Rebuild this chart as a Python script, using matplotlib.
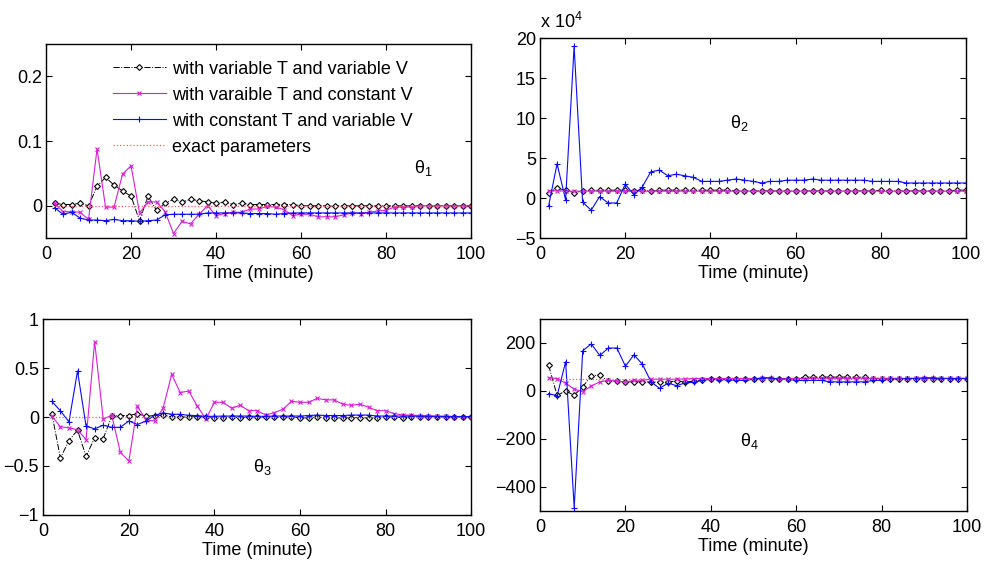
import numpy as np
import matplotlib
matplotlib.use('Agg')
import matplotlib.pyplot as plt

plt.rcParams['font.family'] = ['Liberation Sans', 'DejaVu Sans']
plt.rcParams['mathtext.fontset'] = 'custom'
plt.rcParams['mathtext.rm'] = 'Liberation Sans'
plt.rcParams['mathtext.it'] = 'Liberation Sans'
plt.rcParams['font.size'] = 13

# sampling times (minute)
t = np.arange(2, 101, 2)

# theta_1
th1_varT_varV = [0.004, 0.002, 0.002, 0.004, 0.0, 0.030, 0.044, 0.032, 0.023, 0.015,
                 -0.023, 0.015, -0.007, 0.004, 0.010, 0.006, 0.010, 0.008, 0.006, 0.004,
                 0.006, 0.002, 0.004, 0.002, 0.002, 0.002, 0.002, 0.002, 0.002, 0.0,
                 0.0, 0.0, 0.0, 0.0, 0.0, 0.0, 0.0, 0.0, 0.0, 0.0,
                 0.0, 0.0, 0.0, 0.0, 0.0, 0.0, 0.0, 0.0, 0.0, 0.0]
th1_varT_conV = [0.004, -0.009, -0.009, -0.010, -0.021, 0.088, -0.002, -0.002, 0.049, 0.062,
                 -0.011, 0.006, 0.006, -0.009, -0.043, -0.024, -0.028, -0.013, 0.0, -0.015,
                 -0.012, -0.010, -0.010, -0.005, -0.005, -0.001, -0.002, -0.006, -0.015, -0.013,
                 -0.013, -0.017, -0.017, -0.017, -0.014, -0.011, -0.012, -0.010, -0.008, -0.007,
                 -0.002, -0.002, -0.002, 0.0, 0.0, 0.0, 0.0, 0.0, 0.0, 0.0]
th1_conT_varV = [-0.003, -0.013, -0.010, -0.019, -0.022, -0.022, -0.023, -0.021, -0.023, -0.023,
                 -0.024, -0.023, -0.022, -0.014, -0.013, -0.013, -0.013, -0.013, -0.011, -0.011,
                 -0.011, -0.011, -0.011, -0.012, -0.012, -0.012, -0.013, -0.012, -0.011, -0.011,
                 -0.011, -0.011, -0.011, -0.011, -0.011, -0.011, -0.011, -0.011, -0.011, -0.011,
                 -0.011, -0.011, -0.011, -0.011, -0.011, -0.011, -0.011, -0.011, -0.011, -0.011]

# theta_2 (x 10^4)
th2_varT_varV = [0.7, 1.25, 1.0, 0.7, 0.9, 1.0, 1.0, 1.0, 1.0, 1.0,
                 0.9, 1.0, 0.85, 1.0, 1.0, 1.0, 1.0, 1.0, 1.0, 1.0,
                 1.0, 1.0, 0.9, 0.9, 0.9, 0.9, 0.9, 0.9, 0.9, 0.9,
                 0.9, 0.9, 0.9, 0.9, 0.9, 0.9, 0.9, 0.9, 0.9, 1.0,
                 0.9, 0.9, 0.9, 0.9, 0.9, 0.9, 0.9, 0.9, 1.0, 1.0]
th2_varT_conV = [0.9, 0.92, 0.9, 0.86, 0.88, 0.9, 0.88, 0.88, 0.88, 0.9,
                 0.88, 0.88, 0.88, 0.88, 0.88, 0.88, 0.88, 0.88, 0.88, 0.88,
                 0.88, 0.88, 0.88, 0.88, 0.88, 0.88, 0.88, 0.88, 0.88, 0.88,
                 0.88, 0.88, 0.88, 0.88, 0.88, 0.88, 0.88, 0.88, 0.88, 0.88,
                 0.88, 0.88, 0.88, 0.88, 0.88, 0.88, 0.88, 0.88, 0.88, 0.88]
th2_conT_varV = [-1.0, 4.3, -0.2, 19.0, -0.5, -1.5, 0.2, -0.6, -0.6, 1.75,
                 0.45, 1.4, 3.3, 3.5, 2.8, 3.0, 2.8, 2.6, 2.1, 2.1,
                 2.1, 2.25, 2.4, 2.25, 2.1, 1.9, 2.1, 2.1, 2.25, 2.25,
                 2.25, 2.4, 2.25, 2.25, 2.25, 2.25, 2.25, 2.25, 2.1, 2.1,
                 2.1, 2.1, 1.9, 1.9, 1.9, 1.9, 1.9, 1.9, 1.9, 1.9]

# theta_3
th3_varT_varV = [0.035, -0.42, -0.24, -0.135, -0.40, -0.215, -0.22, 0.007, 0.015, 0.015,
                 0.035, 0.007, 0.015, 0.02, 0.0, 0.0, 0.0, 0.005, 0.0, -0.007,
                 -0.007, 0.0, -0.007, 0.0, 0.0, 0.0, 0.0, 0.0, 0.0, -0.007,
                 -0.01, 0.0, -0.007, -0.007, -0.01, -0.007, -0.007, -0.01, -0.007, 0.0,
                 0.0, -0.007, 0.0, 0.0, 0.0, 0.0, 0.0, 0.0, 0.0, 0.0]
th3_varT_conV = [0.01, -0.10, -0.11, -0.13, -0.23, 0.77, -0.02, 0.017, -0.36, -0.45,
                 0.11, -0.03, -0.04, 0.09, 0.435, 0.25, 0.265, 0.11, -0.02, 0.15,
                 0.15, 0.09, 0.12, 0.065, 0.065, 0.02, 0.045, 0.08, 0.16, 0.15,
                 0.15, 0.19, 0.175, 0.175, 0.13, 0.12, 0.13, 0.1, 0.065, 0.065,
                 0.035, 0.02, 0.02, 0.015, 0.015, 0.01, 0.01, 0.005, 0.005, 0.0]
th3_conT_varV = [0.16, 0.063, -0.05, 0.47, -0.094, -0.12, -0.084, -0.105, -0.105, -0.04,
                 -0.077, -0.04, 0.017, 0.042, 0.028, 0.028, 0.017, 0.014, 0.007, 0.007,
                 0.01, 0.01, 0.01, 0.01, 0.007, 0.007, 0.01, 0.01, 0.01, 0.01,
                 0.015, 0.02, 0.015, 0.015, 0.015, 0.02, 0.02, 0.02, 0.01, 0.01,
                 0.01, 0.01, 0.01, 0.007, 0.007, 0.005, 0.005, 0.005, 0.005, 0.005]

# theta_4
th4_varT_varV = [107, -18, 0, -18, 18, 62, 68, 41, 41, 38,
                 38, 38, 37, 37, 37, 42, 37, 41, 45, 49,
                 51, 51, 51, 51, 51, 51, 51, 51, 51, 51,
                 58, 58, 58, 58, 58, 58, 58, 58, 52, 52,
                 52, 52, 52, 52, 52, 52, 52, 52, 52, 52]
th4_varT_conV = [55, 52, 32, 8, -3, 21, 38, 45, 41, 37,
                 45, 45, 49, 49, 49, 49, 50, 52, 52, 52,
                 52, 52, 52, 52, 52, 53, 53, 52, 52, 52,
                 52, 53, 53, 53, 53, 53, 53, 53, 53, 53,
                 53, 53, 53, 53, 53, 53, 53, 53, 53, 53]
th4_conT_varV = [-11, -20, 122, -486, 168, 196, 148, 179, 179, 103,
                 151, 111, 38, 11, 33, 22, 34, 36, 44, 49,
                 47, 47, 44, 44, 49, 55, 55, 49, 49, 44,
                 44, 44, 44, 38, 38, 38, 38, 38, 44, 44,
                 49, 49, 52, 52, 55, 55, 52, 52, 52, 52]

exact_values = [0.0, 0.88, 0.0, 52.0]

labels = ['with variable T and variable V',
          'with varaible T and constant V',
          'with constant T and variable V',
          'exact parameters']

panels = [
    dict(data=(th1_varT_varV, th1_varT_conV, th1_conT_varV), ylim=(-0.05, 0.25),
         yticks=[0, 0.1, 0.2], yticklabels=['0', '0.1', '0.2'],
         name=r'$\theta_1$', name_xy=(86.5, 0.058),
         rect=[0.0467, 0.577, 0.431, 0.3446]),
    dict(data=(th2_varT_varV, th2_varT_conV, th2_conT_varV), ylim=(-5, 20),
         yticks=[-5, 0, 5, 10, 15, 20], yticklabels=['\u22125', '0', '5', '10', '15', '20'],
         name=r'$\theta_2$', name_xy=(44.5, 9.4),
         rect=[0.5477, 0.577, 0.432, 0.355]),
    dict(data=(th3_varT_varV, th3_varT_conV, th3_conT_varV), ylim=(-1, 1),
         yticks=[-1, -0.5, 0, 0.5, 1], yticklabels=['\u22121', '\u22120.5', '0', '0.5', '1'],
         name=r'$\theta_3$', name_xy=(49.0, -0.51),
         rect=[0.0439, 0.0853, 0.434, 0.348]),
    dict(data=(th4_varT_varV, th4_varT_conV, th4_conT_varV), ylim=(-500, 300),
         yticks=[-400, -200, 0, 200], yticklabels=['\u2212400', '\u2212200', '0', '200'],
         name=r'$\theta_4$', name_xy=(46.8, -208),
         rect=[0.5477, 0.0924, 0.433, 0.341]),
]

fig = plt.figure(figsize=(9.86, 5.63), dpi=100)

for i, p in enumerate(panels):
    ax = fig.add_axes(p['rect'])
    d_vv, d_vc, d_cv = p['data']
    ax.plot(t, d_vv, color='black', linestyle='-.', linewidth=0.7, marker='D',
            markersize=3.0, markerfacecolor='white', markeredgecolor='black',
            markeredgewidth=0.8, label=labels[0])
    ax.plot(t, d_vc, color='#d81ed8', linestyle='-', linewidth=0.8, marker='x',
            markersize=2.2, markeredgewidth=0.8, label=labels[1])
    ax.plot(t, d_cv, color='#0a0aff', linestyle='-', linewidth=0.8, marker='+',
            markersize=5, markeredgewidth=0.8, label=labels[2])
    ev = exact_values[i]
    ax.plot([t[0], t[-1]], [ev, ev], color='#ff5a5a', linestyle=':', linewidth=0.9,
            label=labels[3])

    ax.set_xlim(0, 100)
    ax.set_ylim(*p['ylim'])
    ax.set_xticks([0, 20, 40, 60, 80, 100])
    ax.set_yticks(p['yticks'])
    ax.set_yticklabels(p['yticklabels'])
    ax.tick_params(direction='in', top=True, right=True, length=4, width=0.8,
                   labelsize=13)
    ax.tick_params(axis='x', pad=6)
    ax.tick_params(axis='y', pad=3)
    for s in ax.spines.values():
        s.set_linewidth(1.0)
    ax.set_xlabel('Time (minute)', fontsize=13, labelpad=1)
    ax.text(p['name_xy'][0], p['name_xy'][1], p['name'], fontsize=13,
            ha='left', va='center')

    if i == 0:
        ax.legend(loc='upper left', bbox_to_anchor=(0.158, 0.915), frameon=False,
                  fontsize=13, handlelength=2.9, handletextpad=0.35,
                  labelspacing=0.5, borderpad=0, borderaxespad=0)
    if i == 1:
        ax.text(0.0, 1.03, r'x 10$^4$', transform=ax.transAxes, fontsize=13,
                ha='left', va='bottom')

fig.savefig('out.png', dpi=100)
